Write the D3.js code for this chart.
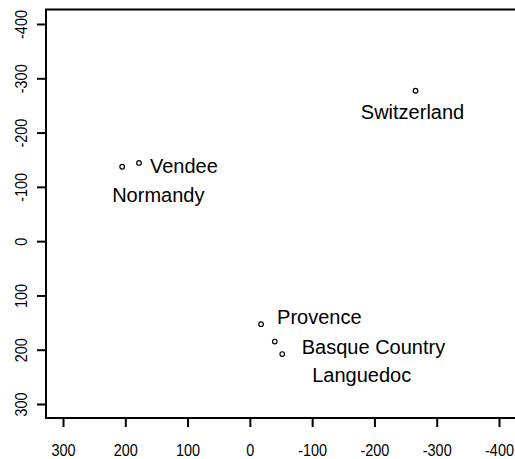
<!DOCTYPE html>
<html>
<head>
<meta charset="utf-8">
<script src="https://cdn.jsdelivr.net/npm/d3@7"></script>
<style>
  body { margin: 0; background: #fff; }
  svg { display: block; }
  text { font-family: Arial, "Liberation Sans", sans-serif; fill: #000; }
</style>
</head>
<body>
<svg></svg>
<script>
// regions and their coordinates
const regions = ["Normandy", "Vendee", "Switzerland", "Provence", "Basque Country", "Languedoc"];
const xValues = [205, 178, -266, -18, -40, -52];
const yValues = [-137, -144, -277, 153, 185, 208];
// label offsets from the point, in pixels
const labelDx = [-10, 11, -3, 16, 27, 30];
const labelDy = [35, 10, 28, 0, 12, 28];
const labelAnchor = ["start", "start", "middle", "start", "start", "start"];

const xTicks = [300, 200, 100, 0, -100, -200, -300, -400];
const yTicks = [-400, -300, -200, -100, 0, 100, 200, 300];

let width = 515;
let height = 459;
let box = {left: 46, top: 9.5, right: 530, bottom: 418};

let svg = d3.select("svg")
            .attr("width", width)
            .attr("height", height)

let xScale = d3.scaleLinear()
               .domain([300, -400])
               .range([63, 499])

let yScale = d3.scaleLinear()
               .domain([-400, 300])
               .range([24, 404])

// axes
let xAxis = d3.axisBottom(xScale)
              .tickValues(xTicks)
              .tickSize(9)
              .tickFormat(d => String(d))

let yAxis = d3.axisLeft(yScale)
              .tickValues(yTicks)
              .tickSize(9)
              .tickFormat(d => String(d))

let gx = svg.append("g")
   .attr("transform", "translate(0," + box.bottom + ")")
   .call(xAxis)

gx.select(".domain").remove()
gx.selectAll("line").attr("stroke", "#000").attr("stroke-width", 2)
gx.selectAll("text")
  .attr("transform", "scale(0.85,1)")
  .attr("y", 38)
  .attr("dy", 0)
  .style("font-size", "17px")
  .style("font-family", "Arial, 'Liberation Sans', sans-serif")

let gy = svg.append("g")
   .attr("transform", "translate(" + box.left + ",0)")
   .call(yAxis)

gy.select(".domain").remove()
gy.selectAll("line").attr("stroke", "#000").attr("stroke-width", 2)
gy.selectAll("text")
  .attr("transform", "rotate(-90) scale(0.85,1)")
  .attr("x", 0)
  .attr("y", -19)
  .attr("dy", 0)
  .attr("text-anchor", "middle")
  .style("font-size", "17px")
  .style("font-family", "Arial, 'Liberation Sans', sans-serif")

// plot box
svg.append("rect")
   .attr("x", box.left)
   .attr("y", box.top)
   .attr("width", box.right - box.left)
   .attr("height", box.bottom - box.top)
   .attr("fill", "none")
   .attr("stroke", "#000")
   .attr("stroke-width", 2)

// points
svg.selectAll("circle.pt")
   .data(regions)
   .enter()
   .append("circle")
   .attr("class", "pt")
   .attr("cx", (d, i) => xScale(xValues[i]))
   .attr("cy", (d, i) => yScale(yValues[i]))
   .attr("r", 2.3)
   .attr("fill", "none")
   .attr("stroke", "#000")
   .attr("stroke-width", 1.2)

// labels
svg.selectAll("text.lbl")
   .data(regions)
   .enter()
   .append("text")
   .attr("class", "lbl")
   .attr("x", (d, i) => xScale(xValues[i]) + labelDx[i])
   .attr("y", (d, i) => yScale(yValues[i]) + labelDy[i])
   .attr("text-anchor", (d, i) => labelAnchor[i])
   .style("font-size", "20px")
   .text(d => d)
</script>
</body>
</html>
